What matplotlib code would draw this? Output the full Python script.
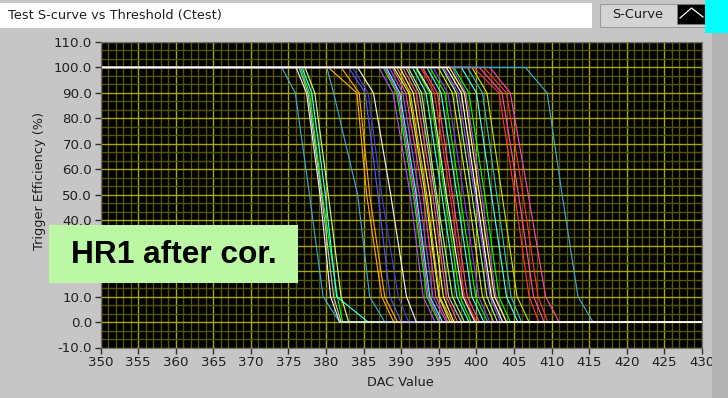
import matplotlib
matplotlib.use("Agg")
import matplotlib.pyplot as plt
from matplotlib.lines import Line2D
from matplotlib.patches import Rectangle
from matplotlib.ticker import AutoMinorLocator

# DAC scan limits
scan_range = [350, 430]

# per channel: DAC where the efficiency leaves 100 %, crosses 90 / 50 / 10 %, reaches 0 %
dac_top = [374.1, 376.6, 376.8, 377.2, 376.4, 380.1, 380.3, 382.0, 383.0, 383.5,
           387.0, 387.6, 388.0, 388.4, 388.8, 389.4, 389.8, 390.2, 390.6, 390.9,
           391.5, 391.9, 392.6, 392.8, 393.4, 393.8, 394.9, 395.4, 395.6, 396.8,
           397.0, 398.0, 398.8, 399.4, 399.6, 400.4, 401.0, 401.8, 406.5, 387.8,
           389.0, 392.0, 394.2, 396.4, 376.0, 384.2, 396.0]
dac_90 = [375.9, 377.8, 378.1, 378.5, 377.6, 381.0, 384.1, 384.4, 385.2, 385.6,
          388.9, 389.4, 389.8, 390.2, 390.6, 391.2, 391.6, 392.0, 392.4, 392.7,
          393.3, 393.8, 394.4, 394.8, 395.3, 395.8, 396.8, 397.3, 397.6, 398.6,
          399.0, 400.0, 400.8, 401.4, 403.0, 403.4, 404.0, 404.5, 409.4, 389.6,
          391.0, 394.0, 396.2, 398.4, 377.4, 386.3, 398.0]
dac_50 = [377.8, 379.5, 379.9, 380.3, 379.4, 384.2, 385.4, 385.8, 386.9, 387.4,
          391.2, 391.6, 392.0, 392.4, 392.9, 393.4, 393.8, 394.2, 394.5, 394.7,
          395.4, 395.8, 396.5, 396.8, 397.4, 397.8, 398.9, 399.4, 399.8, 400.7,
          401.1, 402.0, 402.7, 403.4, 405.1, 405.6, 406.2, 406.9, 411.4, 391.8,
          393.2, 396.0, 398.3, 400.4, 379.2, 388.6, 400.0]
dac_10 = [379.6, 381.5, 381.4, 382.0, 381.0, 385.8, 387.4, 387.8, 388.5, 389.6,
          392.9, 393.4, 393.8, 394.2, 394.6, 395.1, 395.6, 396.0, 396.3, 396.8,
          397.4, 397.8, 398.4, 398.8, 399.4, 399.9, 400.8, 401.4, 401.8, 402.6,
          403.0, 404.0, 404.6, 405.4, 407.0, 407.6, 408.2, 409.2, 413.5, 393.6,
          395.0, 398.2, 400.3, 402.4, 380.6, 390.7, 402.0]
dac_zero = [381.8, 382.2, 385.6, 383.0, 382.0, 387.8, 389.0, 389.5, 390.0, 391.0,
            394.5, 395.0, 395.5, 396.0, 396.2, 396.8, 397.0, 397.5, 398.0, 398.4,
            399.0, 399.3, 400.0, 400.4, 401.0, 401.5, 402.3, 402.8, 403.2, 404.0,
            404.5, 405.5, 406.0, 407.0, 408.3, 409.0, 409.5, 411.0, 415.5, 395.2,
            396.5, 399.8, 401.8, 404.0, 381.8, 392.0, 403.5]
channel_colors = ["#3aa6e0", "#00ff00", "#40ffff", "#c8ff80", "#c0c0c0",
                  "#3aa6e0", "#ffa500", "#ffa500", "#5a50ff", "#4040e0",
                  "#a050ff", "#00ff00", "#40ffff", "#a050ff", "#ff50a0",
                  "#ffa500", "#ffff60", "#ff50a0", "#c0c0c0", "#a0ff80",
                  "#40ffff", "#00ff00", "#ff3040", "#ff50a0", "#40ffff",
                  "#00ff00", "#d0e040", "#a0ff80", "#a050ff", "#a050ff",
                  "#00ff00", "#40ffff", "#30c0c0", "#c0e000", "#ff3040",
                  "#ff50a0", "#ff3040", "#ff40c0", "#3aa6e0", "#ff40ff",
                  "#c8ff60", "#f0f0f0", "#8040ff", "#ffff60", "#f0f0f0",
                  "#f0f0f0", "#ffffff"]
levels = [100, 100, 90, 50, 10, 0, 0]

y_ticks = list(range(-10, 111, 10))
x_ticks = list(range(350, 431, 5))

W, H = 728, 398
panel_grey = "#c6c6c6"
text_col = "#202020"


def fx(px):
    return px / W


def fy(py):
    return 1 - py / H


fig = plt.figure(figsize=(W / 100, H / 100), dpi=100, facecolor=panel_grey)

# header strip, legend button and corner marker
fig.patches.append(Rectangle((0, fy(28)), fx(592), (28 - 3) / H,
                             transform=fig.transFigure, facecolor="white",
                             edgecolor="none"))
fig.patches.append(Rectangle((fx(600), fy(27)), fx(105), 23 / H,
                             transform=fig.transFigure, facecolor="#d4d4d4",
                             edgecolor="#9a9a9a", lw=0.8))
fig.patches.append(Rectangle((fx(677), fy(24)), fx(28), 20 / H,
                             transform=fig.transFigure, facecolor="black",
                             edgecolor="#808080", lw=0.6))
fig.lines.append(Line2D([fx(680), fx(691.5), fx(703)], [fy(18), fy(8), fy(17)],
                        transform=fig.transFigure, color="white", lw=0.9))
fig.patches.append(Rectangle((fx(705), fy(33)), fx(23), 33 / H,
                             transform=fig.transFigure, facecolor="#00ffff",
                             edgecolor="none"))
fig.patches.append(Rectangle((fx(712), 0), fx(16), fy(33),
                             transform=fig.transFigure, facecolor="#b2b2b2",
                             edgecolor="none"))
fig.text(fx(8), fy(16), "Test S-curve vs Threshold (Ctest)", fontsize=9.3,
         color=text_col, va="center", ha="left")
fig.text(fx(612), fy(15), "S-Curve", fontsize=9.3, color=text_col,
         va="center", ha="left")

ax = fig.add_axes([fx(100.5), fy(347.5), fx(702 - 100.5), (347.5 - 42) / H])
ax.set_facecolor("black")
ax.set_axisbelow(True)

for top, d90, d50, d10, zero, col in zip(dac_top, dac_90, dac_50, dac_10,
                                         dac_zero, channel_colors):
    xs = [scan_range[0], top, d90, d50, d10, zero, scan_range[1]]
    ax.plot(xs, levels, color=col, lw=0.85)

ax.set_xlim(scan_range)
ax.set_ylim(y_ticks[0], y_ticks[-1])
ax.set_xticks(x_ticks)
ax.set_yticks(y_ticks)
ax.set_yticklabels([f"{v:.1f}" for v in y_ticks])
ax.xaxis.set_minor_locator(AutoMinorLocator(5))
ax.yaxis.set_minor_locator(AutoMinorLocator(3))
ax.grid(which="major", color="#a8a800", lw=1.0)
ax.grid(which="minor", color="#565600", lw=1.0)
ax.tick_params(which="major", direction="out", length=4, width=1,
               color="#303030", labelsize=9.6, labelcolor=text_col, pad=2)
ax.tick_params(which="minor", length=0)
for sp in ax.spines.values():
    sp.set_color("#707070")

fig.text(fx(400), fy(383), "DAC Value", fontsize=9.3, color=text_col,
         ha="center", va="center")
fig.text(fx(40), fy(181), "Trigger Efficiency (%)", fontsize=9.3,
         color=text_col, ha="center", va="center", rotation=90)

# channel label
fig.patches.append(Rectangle((fx(49), fy(283)), fx(249), 58 / H,
                             transform=fig.transFigure, facecolor="#bcf8a4",
                             edgecolor="none", zorder=5))
fig.text(fx(173.5), fy(255), "HR1 after cor.", fontsize=22.8, fontweight="bold",
         family="Liberation Sans", color="black", ha="center", va="center",
         zorder=6)

fig.savefig("out.png", dpi=100, facecolor=fig.get_facecolor())
